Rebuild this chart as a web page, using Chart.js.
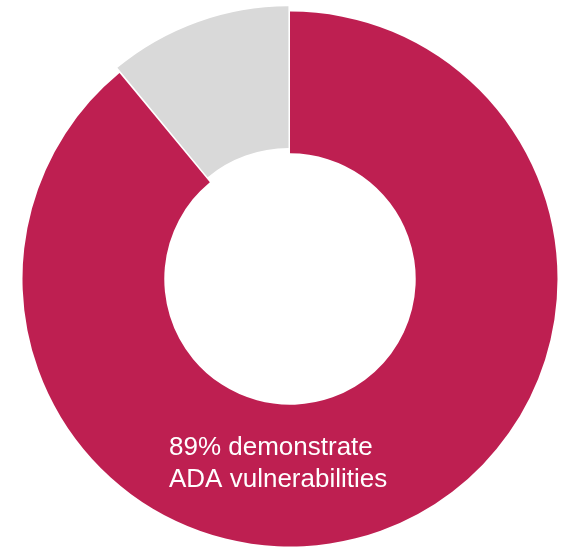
<!DOCTYPE html>
<html>
<head>
<meta charset="utf-8">
<script src="https://cdn.jsdelivr.net/npm/chart.js@4/dist/chart.umd.min.js"></script>
<style>
  html, body { margin: 0; padding: 0; background: #fff; }
  #wrap { width: 562px; height: 548px; }
</style>
</head>
<body>
<div id="wrap"><canvas id="adaChart"></canvas></div>
<script>
// share of sites with / without ADA issues
const segments = ["Vulnerable", "Other"];
const shares = [89, 11];
const segmentColors = ["#be1f51", "#d9d9d9"];
const labelLines = ["89% demonstrate", "ADA vulnerabilities"];

// white caption inside the lower part of the ring
const captionPlugin = {
  id: "caption",
  afterDraw(chart) {
    const arc = chart.getDatasetMeta(0).data[0];
    const ctx = chart.ctx;
    ctx.save();
    ctx.fillStyle = "#ffffff";
    ctx.font = "26px 'Liberation Sans', Arial, sans-serif";
    ctx.textAlign = "left";
    ctx.textBaseline = "alphabetic";
    labelLines.forEach((line, i) => {
      ctx.fillText(line, arc.x - 121, arc.y + 176 + i * 32);
    });
    ctx.restore();
  }
};

new Chart(document.getElementById("adaChart"), {
  type: "doughnut",
  data: {
    labels: segments,
    datasets: [{
      data: shares,
      backgroundColor: segmentColors,
      borderWidth: 0,
      offset: [0, 16]
    }]
  },
  options: {
    responsive: true,
    maintainAspectRatio: false,
    animation: false,
    events: [],
    radius: 267.5,
    cutout: "47%",
    layout: { padding: { left: 18, right: 0, top: 10, bottom: 0 } },
    plugins: {
      legend: { display: false },
      tooltip: { enabled: false }
    }
  },
  plugins: [captionPlugin]
});
</script>
</body>
</html>
